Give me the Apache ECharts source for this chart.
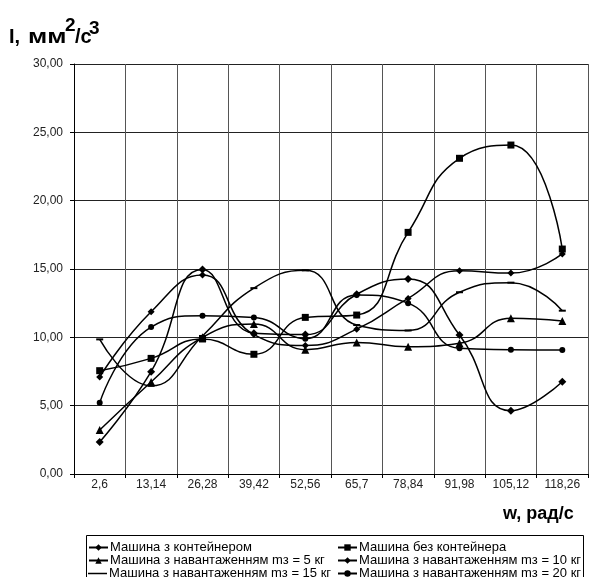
<!DOCTYPE html>
<html>
<head>
<meta charset="utf-8">
<script src="https://cdn.jsdelivr.net/npm/echarts@6/dist/echarts.min.js"></script>
<style>
html,body{margin:0;padding:0;background:#fff;}
#chart{width:596px;height:577px;}
</style>
</head>
<body>
<div id="chart"></div>
<script>
const categories = ['2,6','13,14','26,28','39,42','52,56','65,7','78,84','91,98','105,12','118,26'];
const yTicks = [0, 5, 10, 15, 20, 25, 30];

const sContainer = [7.1, 11.87, 14.56, 10.2, 9.4, 10.6, 12.85, 14.87, 14.7, 16.1];
const sNoContainer = [7.56, 8.46, 9.88, 8.76, 11.46, 11.63, 17.68, 23.1, 24.07, 16.46];
const sLoad5 = [3.22, 6.73, 10.0, 10.97, 9.1, 9.63, 9.31, 9.56, 11.39, 11.19];
const sLoad10 = [2.34, 7.49, 14.97, 10.3, 10.2, 13.15, 14.26, 10.17, 4.63, 6.75];
const sLoad15 = [9.85, 6.45, 10.1, 13.6, 14.9, 10.9, 10.5, 13.3, 14.0, 11.95];
const sLoad20 = [5.22, 10.75, 11.58, 11.46, 9.9, 13.1, 12.5, 9.2, 9.1, 9.07];

const names = [
  'Машина з контейнером',
  'Машина без контейнера',
  'Машина з навантаженням mз = 5 кг',
  'Машина з навантаженням mз = 10 кг',
  'Машина з навантаженням mз = 15 кг',
  'Машина з навантаженням mз = 20 кг'
];

const FONT = '"Liberation Sans", Arial, sans-serif';

function mk(name, data, symbol, size) {
  return {
    name: name,
    type: 'line',
    data: data,
    smooth: 0.5,
    symbol: symbol,
    symbolSize: size,
    showSymbol: true,
    lineStyle: { color: '#000', width: 1.5 },
    itemStyle: { color: '#000' },
    emphasis: { disabled: true },
    animation: false
  };
}

const legendCols = [88, 337];
const legendRows = [541, 554, 567];
const legends = names.map((n, i) => {
  const plain = (i === 4);
  return {
    orient: 'horizontal',
    left: legendCols[i % 2],
    top: legendRows[Math.floor(i / 2)],
    padding: 0,
    itemWidth: 19,
    itemHeight: plain ? 1.5 : 8,
    itemGap: 0,
    textStyle: { fontSize: 13, fontFamily: FONT, color: '#000', padding: [0, 0, 0, -3] },
    data: plain ? [{ name: n, icon: 'rect' }] : [n]
  };
});

const chart = echarts.init(document.getElementById('chart'), null, { renderer: 'canvas' });
chart.setOption({
  animation: false,
  backgroundColor: '#fff',
  grid: { left: 74, right: 8, top: 64, bottom: 103, containLabel: false },
  xAxis: {
    type: 'category',
    data: categories,
    boundaryGap: true,
    axisLine: { lineStyle: { color: '#000', width: 1 } },
    axisTick: { show: true, length: 4, lineStyle: { color: '#000' } },
    axisLabel: { color: '#222', fontSize: 12, fontFamily: FONT, margin: 5, interval: 0 },
    splitLine: { show: true, lineStyle: { color: '#555', width: 1 } }
  },
  yAxis: {
    type: 'value',
    min: yTicks[0],
    max: yTicks[yTicks.length - 1],
    interval: 5,
    axisLine: { show: true, lineStyle: { color: '#000', width: 1 } },
    axisTick: { show: true, length: 4, lineStyle: { color: '#000' } },
    axisLabel: {
      color: '#222', fontSize: 12, fontFamily: FONT, margin: 11,
      formatter: v => v.toFixed(2).replace('.', ',')
    },
    splitLine: { show: true, lineStyle: { color: '#222', width: 1 } }
  },
  legend: legends,
  graphic: [
    { type: 'rect', shape: { x: 86.5, y: 535.5, width: 497, height: 60 }, style: { fill: 'none', stroke: '#000', lineWidth: 1 }, silent: true },
    { type: 'text', x: 9, y: 27, style: { text: 'I,', font: 'bold 20px ' + FONT, fill: '#000' } },
    { type: 'text', x: 28, y: 27, scaleX: 1.3, style: { text: 'мм', font: 'bold 20px ' + FONT, fill: '#000' } },
    { type: 'text', x: 65, y: 16, style: { text: '2', font: 'bold 19px ' + FONT, fill: '#000' } },
    { type: 'text', x: 75, y: 27, style: { text: '/с', font: 'bold 20px ' + FONT, fill: '#000' } },
    { type: 'text', x: 89, y: 19, style: { text: '3', font: 'bold 19px ' + FONT, fill: '#000' } },
    { type: 'text', x: 503, y: 505, style: { text: 'w, рад/с', font: 'bold 18px ' + FONT, fill: '#000' } }
  ],
  series: [
    mk(names[0], sContainer, 'diamond', 7),
    mk(names[1], sNoContainer, 'rect', 7),
    mk(names[2], sLoad5, 'triangle', 8),
    mk(names[3], sLoad10, 'diamond', 8),
    mk(names[4], sLoad15, 'rect', [7, 2]),
    mk(names[5], sLoad20, 'circle', 6)
  ]
});
</script>
</body>
</html>
